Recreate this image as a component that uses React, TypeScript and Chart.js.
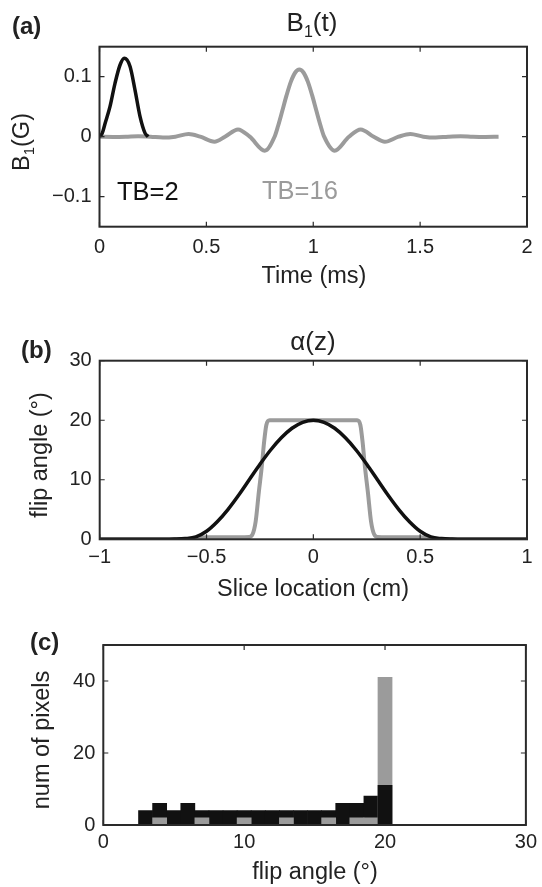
import React, { useEffect, useRef } from "react";
import { Chart, registerables } from "chart.js";

Chart.register(...registerables);

// ---------- Panel (a): B1(t) ----------
const tb16Time = [0, 0.063, 0.123, 0.181, 0.239, 0.297, 0.355, 0.417, 0.471, 0.538, 0.587, 0.648, 0.703, 0.773, 0.819, 0.835, 0.855, 0.875, 0.895, 0.915, 0.935, 0.955, 0.975, 0.995, 1.015, 1.035, 1.051, 1.1, 1.167, 1.222, 1.283, 1.335, 1.399, 1.454, 1.515, 1.573, 1.631, 1.689, 1.747, 1.805, 1.867];
const tb16B1 = [0, -0.0003, 0, 0.0008, 0, -0.0015, 0, 0.0045, 0, -0.0083, 0, 0.0122, 0, -0.0233, 0, 0.0174, 0.0428, 0.0688, 0.0914, 0.1066, 0.112, 0.1066, 0.0914, 0.0688, 0.0428, 0.0174, 0, -0.0233, 0, 0.0122, 0, -0.0083, 0, 0.0045, 0, -0.0015, 0, 0.0008, 0, -0.0003, 0];
const tb2Time = [0, 0.013, 0.026, 0.049, 0.0725, 0.096, 0.116, 0.143, 0.166, 0.19, 0.213, 0.228];
const tb2B1 = [0, 0.006, 0.022, 0.05, 0.089, 0.1195, 0.1307, 0.117, 0.078, 0.033, 0.006, 0];
const timeTicks = [0, 0.5, 1, 1.5, 2];
const timeTickLabels = ["0", "0.5", "1", "1.5", "2"];
const b1Ticks = [-0.1, 0, 0.1];
const b1TickLabels = ["\u22120.1", "0", "0.1"];

// ---------- Panel (b): alpha(z) ----------
const sliceZ2 = [-1, -0.8, -0.7, -0.65, -0.6, -0.55, -0.5, -0.45, -0.4, -0.35, -0.3, -0.25, -0.2, -0.15, -0.1, -0.05, 0, 0.05, 0.1, 0.15, 0.2, 0.25, 0.3, 0.35, 0.4, 0.45, 0.5, 0.55, 0.6, 0.65, 0.7, 0.8, 1];
const alphaTB2 = [0, 0, 0, 0.03, 0.12, 0.4, 1.35, 2.95, 5.0, 7.4, 10.0, 12.6, 15.0, 17.05, 18.65, 19.65, 20, 19.65, 18.65, 17.05, 15.0, 12.6, 10.0, 7.4, 5.0, 2.95, 1.35, 0.4, 0.12, 0.03, 0, 0, 0];
const sliceZ16 = [-1, -0.6, -0.5, -0.35, -0.3, -0.285, -0.27, -0.255, -0.242, -0.23, -0.22, -0.205, 0, 0.205, 0.22, 0.23, 0.242, 0.255, 0.27, 0.285, 0.3, 0.35, 0.5, 0.6, 1];
const alphaTB16 = [0, 0, 0.35, 0.35, 0.4, 0.8, 3, 8, 12, 16.5, 19.2, 20, 20, 20, 19.2, 16.5, 12, 8, 3, 0.8, 0.4, 0.35, 0.35, 0, 0];
const zTicks = [-1, -0.5, 0, 0.5, 1];
const zTickLabels = ["\u22121", "\u22120.5", "0", "0.5", "1"];
const alphaTicks = [0, 10, 20, 30];
const alphaTickLabels = ["0", "10", "20", "30"];

// ---------- Panel (c): histogram ----------
const histBins = [3, 4, 5, 6, 7, 8, 9, 10, 11, 12, 13, 14, 15, 16, 17, 18, 19, 20];
const countsTB2 = [4, 6, 4, 6, 4, 4, 4, 4, 4, 4, 4, 4, 4, 4, 6, 6, 8, 11];
const countsTB16 = [0, 2, 0, 0, 2, 0, 0, 2, 0, 0, 2, 0, 0, 2, 0, 2, 2, 41];
const angleTicks = [0, 10, 20, 30];
const angleTickLabels = ["0", "10", "20", "30"];
const countTicks = [0, 20, 40];
const countTickLabels = ["0", "20", "40"];

// ---------- styling ----------
const FONT = "'Liberation Sans', Arial, Helvetica, sans-serif";
const INK = "#222222";
const BLACK = "#111111";
const GRAY = "#9b9b9b";
const W = 542;
const TICK_SIZE = 20;
const AXIS_TITLE = 23.5;
const TITLE = 26;
const LETTER = 24;

type Part = { t: string; sub?: boolean };
type TextItem = {
  parts: Part[];
  x: number;
  y: number;
  size: number;
  align?: "left" | "center";
  rotate?: boolean;
  color?: string;
  bold?: boolean;
};

function drawText(ctx: CanvasRenderingContext2D, item: TextItem) {
  ctx.save();
  ctx.translate(item.x, item.y);
  if (item.rotate) ctx.rotate(-Math.PI / 2);
  ctx.fillStyle = item.color || INK;
  ctx.textBaseline = "middle";
  ctx.textAlign = "left";
  const weight = item.bold ? "bold " : "";
  const fontFor = (p: Part) =>
    `${weight}${p.sub ? Math.round(item.size * 0.62) : item.size}px ${FONT}`;
  let total = 0;
  const widths = item.parts.map((p) => {
    ctx.font = fontFor(p);
    const w = ctx.measureText(p.t).width;
    total += w;
    return w;
  });
  let x = item.align === "left" ? 0 : -total / 2;
  item.parts.forEach((p, i) => {
    ctx.font = fontFor(p);
    ctx.fillText(p.t, x, p.sub ? item.size * 0.32 : 0);
    x += widths[i];
  });
  ctx.restore();
}

function drawTickMarks(chart: any) {
  const { ctx, chartArea: a, scales } = chart;
  ctx.save();
  ctx.strokeStyle = "#2a2a2a";
  ctx.lineWidth = 1.2;
  const L = 5;
  ctx.beginPath();
  scales.x.ticks.forEach((t: any) => {
    const px = scales.x.getPixelForValue(t.value);
    ctx.moveTo(px, a.bottom);
    ctx.lineTo(px, a.bottom - L);
    ctx.moveTo(px, a.top);
    ctx.lineTo(px, a.top + L);
  });
  scales.y.ticks.forEach((t: any) => {
    const py = scales.y.getPixelForValue(t.value);
    ctx.moveTo(a.left, py);
    ctx.lineTo(a.left + L, py);
    ctx.moveTo(a.right, py);
    ctx.lineTo(a.right - L, py);
  });
  ctx.stroke();
  ctx.restore();
}

function makeFramePlugin(texts: TextItem[], ticksBehind: boolean) {
  return {
    id: "frame",
    beforeDatasetsDraw(chart: any) {
      if (ticksBehind) drawTickMarks(chart);
    },
    afterDatasetsDraw(chart: any) {
      const { ctx, chartArea: a } = chart;
      if (!ticksBehind) drawTickMarks(chart);
      ctx.save();
      ctx.strokeStyle = "#2a2a2a";
      ctx.lineWidth = 2;
      ctx.strokeRect(a.left, a.top, a.right - a.left, a.bottom - a.top);
      ctx.restore();
    },
    afterDraw(chart: any) {
      texts.forEach((t) => drawText(chart.ctx, t));
    },
  };
}

type Area = { l: number; r: number; t: number; b: number };

function scaleOpts(
  isX: boolean,
  min: number,
  max: number,
  ticks: number[],
  labels: string[],
  H: number,
  area: Area,
  padding: number
) {
  return {
    type: "linear",
    min,
    max,
    offset: false,
    grid: { display: false, drawTicks: false },
    border: { display: false },
    afterBuildTicks: (s: any) => {
      s.ticks = ticks.map((v) => ({ value: v }));
    },
    afterFit: (s: any) => {
      if (isX) s.height = H - area.b;
      else s.width = area.l;
    },
    ticks: {
      autoSkip: false,
      maxRotation: 0,
      padding,
      color: INK,
      font: { family: FONT, size: TICK_SIZE },
      callback: (_v: any, i: number) => labels[i],
    },
  };
}

function baseOptions(area: Area, xs: any, ys: any) {
  return {
    responsive: false,
    animation: false,
    devicePixelRatio: 1,
    layout: { padding: { left: 0, top: area.t, right: W - area.r, bottom: 0 } },
    plugins: { legend: { display: false }, tooltip: { enabled: false } },
    scales: { x: xs, y: ys },
  };
}

function pts(xs: number[], ys: number[]) {
  return xs.map((x, i) => ({ x, y: ys[i] }));
}

function configA(H: number) {
  const area = { l: 99.5, r: 527, t: 46.7, b: 226.7 };
  const texts: TextItem[] = [
    { parts: [{ t: "(a)" }], x: 12, y: 27, size: LETTER, align: "left", bold: true },
    { parts: [{ t: "B" }, { t: "1", sub: true }, { t: "(t)" }], x: 312, y: 24, size: TITLE },
    { parts: [{ t: "Time (ms)" }], x: 314, y: 277, size: AXIS_TITLE },
    { parts: [{ t: "B" }, { t: "1", sub: true }, { t: "(G)" }], x: 22.5, y: 142, size: AXIS_TITLE, rotate: true },
    { parts: [{ t: "TB=2" }], x: 117, y: 193, size: 25.5, align: "left", color: BLACK },
    { parts: [{ t: "TB=16" }], x: 262, y: 192, size: 25.5, align: "left", color: GRAY },
  ];
  return {
    type: "line",
    data: {
      datasets: [
        { data: pts(tb2Time, tb2B1), borderColor: BLACK, borderWidth: 3.5, pointRadius: 0, cubicInterpolationMode: "monotone", fill: false },
        { data: pts(tb16Time, tb16B1), borderColor: GRAY, borderWidth: 4, pointRadius: 0, cubicInterpolationMode: "monotone", fill: false },
      ],
    },
    options: baseOptions(
      area,
      scaleOpts(true, 0, 2, timeTicks, timeTickLabels, H, area, 9),
      scaleOpts(false, -0.15, 0.15, b1Ticks, b1TickLabels, H, area, 8)
    ),
    plugins: [makeFramePlugin(texts, false)],
  };
}

function configB(H: number) {
  const area = { l: 99.7, r: 527, t: 60.7, b: 239.3 };
  const texts: TextItem[] = [
    { parts: [{ t: "(b)" }], x: 21, y: 51, size: LETTER, align: "left", bold: true },
    { parts: [{ t: "\u03b1(z)" }], x: 313, y: 43, size: TITLE },
    { parts: [{ t: "Slice location (cm)" }], x: 313, y: 290, size: AXIS_TITLE },
    { parts: [{ t: "flip angle (\u00b0)" }], x: 41, y: 155, size: AXIS_TITLE, rotate: true },
  ];
  return {
    type: "line",
    data: {
      datasets: [
        { data: pts(sliceZ2, alphaTB2), borderColor: BLACK, borderWidth: 3.5, pointRadius: 0, cubicInterpolationMode: "monotone", fill: false },
        { data: pts(sliceZ16, alphaTB16), borderColor: GRAY, borderWidth: 4, pointRadius: 0, cubicInterpolationMode: "monotone", fill: false },
      ],
    },
    options: baseOptions(
      area,
      scaleOpts(true, -1, 1, zTicks, zTickLabels, H, area, 6.5),
      scaleOpts(false, 0, 30, alphaTicks, alphaTickLabels, H, area, 8)
    ),
    plugins: [makeFramePlugin(texts, false)],
  };
}

function configC(H: number) {
  const area = { l: 103.3, r: 530, t: 33, b: 213 };
  const texts: TextItem[] = [
    { parts: [{ t: "(c)" }], x: 30, y: 31, size: LETTER, align: "left", bold: true },
    { parts: [{ t: "flip angle (\u00b0)" }], x: 315, y: 261, size: AXIS_TITLE },
    { parts: [{ t: "num of pixels" }], x: 43, y: 128, size: AXIS_TITLE, rotate: true },
  ];
  // in each bin the taller bar is drawn behind and the shorter one in front
  const back = histBins.map((x, i) => ({ x, y: Math.max(countsTB2[i], countsTB16[i]) }));
  const backColors = histBins.map((_, i) => (countsTB2[i] >= countsTB16[i] ? BLACK : GRAY));
  const front = histBins.map((x, i) => {
    const m = Math.min(countsTB2[i], countsTB16[i]);
    return { x, y: m > 0 ? m : null };
  });
  const frontColors = histBins.map((_, i) => (countsTB2[i] >= countsTB16[i] ? GRAY : BLACK));
  const barCommon = { grouped: false, barPercentage: 1, categoryPercentage: 1, borderWidth: 0 };
  return {
    type: "bar",
    data: {
      datasets: [
        { ...barCommon, data: front, backgroundColor: frontColors },
        { ...barCommon, data: back, backgroundColor: backColors },
      ],
    },
    options: baseOptions(
      area,
      scaleOpts(true, 0, 30, angleTicks, angleTickLabels, H, area, 5),
      scaleOpts(false, 0, 50, countTicks, countTickLabels, H, area, 8)
    ),
    plugins: [makeFramePlugin(texts, true)],
  };
}

function Panel({ top, height, build }: { top: number; height: number; build: (h: number) => any }) {
  const ref = useRef<HTMLCanvasElement>(null);
  useEffect(() => {
    const chart = new Chart(ref.current as HTMLCanvasElement, build(height));
    return () => chart.destroy();
  }, []);
  return (
    <canvas
      ref={ref}
      width={W}
      height={height}
      style={{ position: "absolute", left: 0, top, width: W, height, display: "block" }}
    />
  );
}

export default function App() {
  return (
    <div style={{ position: "absolute", left: 0, top: 0, width: W, height: 887, background: "#fff", overflow: "hidden" }}>
      <Panel top={0} height={300} build={configA} />
      <Panel top={300} height={312} build={configB} />
      <Panel top={612} height={275} build={configC} />
    </div>
  );
}
